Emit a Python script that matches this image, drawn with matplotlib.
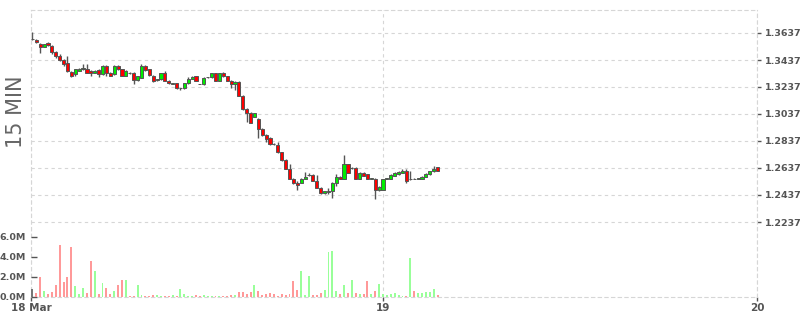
import matplotlib

matplotlib.use("Agg")
import matplotlib.pyplot as plt
import matplotlib.dates as mdates
import numpy as np
import pandas as pd

# 15-minute bars, first bar 18 Mar 01:30
start = "2020-03-18 01:30"

opens = [
    1.3593, 1.3585, 1.3555, 1.3537, 1.3563, 1.3537, 1.3496, 1.3463, 1.3437, 1.3415,
    1.3348, 1.3330, 1.3359, 1.3367, 1.3370, 1.3359, 1.3344, 1.3363, 1.3330, 1.3396,
    1.3344, 1.3330, 1.3396, 1.3367, 1.3322, 1.3341, 1.3341, 1.3289, 1.3307, 1.3396,
    1.3367, 1.3322, 1.3289, 1.3293, 1.3337, 1.3285, 1.3261, 1.3263, 1.3226, 1.3226,
    1.3263, 1.3296, 1.3315, 1.3259, 1.3256, 1.3309, 1.3311, 1.3337, 1.3285, 1.3337,
    1.3315, 1.3285, 1.3259, 1.3274, 1.3174, 1.3074, 1.3048, 1.3018, 1.3003, 1.2929,
    1.2885, 1.2859, 1.2818, 1.2811, 1.2752, 1.2696, 1.2630, 1.2559, 1.2529, 1.2529,
    1.2559, 1.2583, 1.2585, 1.2544, 1.2492, 1.2452, 1.2461, 1.2463, 1.2529, 1.2574,
    1.2559, 1.2663, 1.2635, 1.2637, 1.2555, 1.2603, 1.2589, 1.2559, 1.2559, 1.2477,
    1.2477, 1.2559, 1.2559, 1.2581, 1.2589, 1.2603, 1.2618, 1.2552, 1.2557, 1.2559,
    1.2559, 1.2574, 1.2589, 1.2615, 1.2644,
]
highs = [
    1.3644, 1.3589, 1.3563, 1.3555, 1.3570, 1.3548, 1.3504, 1.3481, 1.3444, 1.3467,
    1.3356, 1.3370, 1.3378, 1.3407, 1.3407, 1.3363, 1.3363, 1.3370, 1.3400, 1.3400,
    1.3348, 1.3400, 1.3400, 1.3370, 1.3363, 1.3348, 1.3348, 1.3319, 1.3407, 1.3400,
    1.3370, 1.3326, 1.3296, 1.3344, 1.3359, 1.3289, 1.3267, 1.3267, 1.3230, 1.3267,
    1.3311, 1.3319, 1.3319, 1.3259, 1.3311, 1.3313, 1.3341, 1.3341, 1.3341, 1.3348,
    1.3319, 1.3289, 1.3281, 1.3278, 1.3178, 1.3081, 1.3052, 1.3044, 1.3007, 1.2933,
    1.2889, 1.2863, 1.2822, 1.2833, 1.2755, 1.2700, 1.2663, 1.2563, 1.2544, 1.2563,
    1.2611, 1.2600, 1.2589, 1.2585, 1.2496, 1.2470, 1.2489, 1.2533, 1.2592, 1.2578,
    1.2733, 1.2666, 1.2644, 1.2641, 1.2607, 1.2607, 1.2592, 1.2563, 1.2563, 1.2500,
    1.2559, 1.2566, 1.2589, 1.2607, 1.2615, 1.2626, 1.2626, 1.2618, 1.2563, 1.2566,
    1.2578, 1.2600, 1.2618, 1.2652, 1.2648,
]
lows = [
    1.3585, 1.3563, 1.3489, 1.3533, 1.3541, 1.3481, 1.3455, 1.3430, 1.3393, 1.3348,
    1.3311, 1.3322, 1.3356, 1.3363, 1.3337, 1.3319, 1.3341, 1.3311, 1.3326, 1.3319,
    1.3319, 1.3326, 1.3363, 1.3319, 1.3319, 1.3333, 1.3259, 1.3285, 1.3304, 1.3356,
    1.3319, 1.3274, 1.3285, 1.3289, 1.3281, 1.3259, 1.3256, 1.3222, 1.3215, 1.3222,
    1.3259, 1.3293, 1.3278, 1.3256, 1.3252, 1.3307, 1.3307, 1.3281, 1.3281, 1.3311,
    1.3281, 1.3226, 1.3218, 1.3170, 1.3066, 1.2981, 1.2970, 1.3015, 1.2859, 1.2874,
    1.2833, 1.2811, 1.2811, 1.2748, 1.2692, 1.2626, 1.2555, 1.2518, 1.2477, 1.2526,
    1.2555, 1.2578, 1.2541, 1.2489, 1.2444, 1.2441, 1.2444, 1.2418, 1.2500, 1.2552,
    1.2555, 1.2600, 1.2630, 1.2552, 1.2552, 1.2578, 1.2555, 1.2555, 1.2407, 1.2470,
    1.2474, 1.2555, 1.2555, 1.2578, 1.2585, 1.2600, 1.2526, 1.2548, 1.2552, 1.2555,
    1.2555, 1.2570, 1.2585, 1.2611, 1.2615,
]
closes = [
    1.3593, 1.3570, 1.3533, 1.3552, 1.3548, 1.3496, 1.3463, 1.3437, 1.3407, 1.3356,
    1.3319, 1.3367, 1.3374, 1.3381, 1.3344, 1.3337, 1.3359, 1.3330, 1.3396, 1.3344,
    1.3322, 1.3396, 1.3367, 1.3322, 1.3359, 1.3337, 1.3289, 1.3315, 1.3396, 1.3363,
    1.3326, 1.3281, 1.3293, 1.3337, 1.3285, 1.3267, 1.3263, 1.3226, 1.3228, 1.3263,
    1.3296, 1.3311, 1.3281, 1.3256, 1.3307, 1.3311, 1.3337, 1.3285, 1.3337, 1.3315,
    1.3285, 1.3256, 1.3274, 1.3174, 1.3074, 1.3048, 1.2974, 1.3041, 1.2929, 1.2881,
    1.2855, 1.2818, 1.2815, 1.2752, 1.2696, 1.2630, 1.2559, 1.2526, 1.2514, 1.2559,
    1.2574, 1.2585, 1.2544, 1.2492, 1.2452, 1.2467, 1.2463, 1.2529, 1.2574, 1.2555,
    1.2663, 1.2603, 1.2637, 1.2555, 1.2603, 1.2581, 1.2559, 1.2561, 1.2477, 1.2496,
    1.2555, 1.2561, 1.2585, 1.2603, 1.2607, 1.2618, 1.2544, 1.2559, 1.2555, 1.2561,
    1.2574, 1.2596, 1.2615, 1.2633, 1.2618,
]
# volume in millions
volumes = [
    0.80, 0.40, 2.00, 0.60, 0.27, 0.47, 1.17, 5.20, 1.50, 2.00,
    5.00, 1.07, 0.27, 0.87, 0.37, 3.57, 2.57, 0.27, 1.37, 0.87,
    0.27, 0.57, 1.17, 1.67, 1.67, 0.07, 0.07, 1.17, 0.17, 0.07,
    0.07, 0.17, 0.17, 0.07, 0.05, 0.05, 0.17, 0.05, 0.77, 0.27,
    0.10, 0.05, 0.17, 0.05, 0.17, 0.05, 0.10, 0.05, 0.08, 0.05,
    0.05, 0.17, 0.17, 0.47, 0.47, 0.27, 0.47, 1.17, 0.57, 0.17,
    0.27, 0.37, 0.27, 0.07, 0.27, 0.17, 0.27, 1.57, 0.67, 2.57,
    0.17, 2.07, 0.17, 0.17, 0.37, 0.67, 4.47, 4.57, 0.57, 0.27,
    1.17, 0.37, 1.67, 0.37, 0.27, 0.27, 1.57, 0.27, 0.57, 1.27,
    0.27, 0.17, 0.27, 0.37, 0.17, 0.07, 0.07, 3.87, 0.57, 0.37,
    0.37, 0.47, 0.47, 0.77, 0.17,
]
price_ticks = [1.2237, 1.2437, 1.2637, 1.2837, 1.3037, 1.3237, 1.3437, 1.3637]
volume_ticks = [0, 2, 4, 6]
day_labels = ["18 Mar", "19", "20"]
day_dates = ["2020-03-19", "2020-03-20"]

GRID = "#d6d6d6"
TEXT = "#555555"
EDGE = "#555555"
DASH = (0, (3, 3))

o = np.array(opens)
c = np.array(closes)
times = pd.date_range(start, periods=len(opens), freq="15min")
x = mdates.date2num(times.to_pydatetime())
step = 1 / 96

body_col = np.where(c > o, "#00ee00", np.where(c < o, "#ff0000", EDGE))
vol_col = np.where(c > o, "#99ff99", np.where(c < o, "#ff9999", "#777777"))

W, H = 800, 315
left, right, top, bottom = 31, 757, 10, 296.5
rect = [left / W, (H - bottom) / H, (right - left) / W, (bottom - top) / H]

fig = plt.figure(figsize=(W / 100, H / 100), dpi=100)
ax = fig.add_axes(rect)
ax_vol = fig.add_axes(rect, sharex=ax)
ax_vol.patch.set_visible(False)

# price scale: 27 px per 0.02
px = 0.02 / 27
ax.set_ylim(1.3637 - (bottom - 33) * px, 1.3637 + (33 - top) * px)

x_end = mdates.date2num(pd.Timestamp(day_dates[-1]))
x_start = x[0] - 0.36 * step
ax.set_xlim(x_start, x_end)

ax.vlines(x, lows, highs, color=EDGE, linewidth=1, zorder=2)
ax.bar(x, np.abs(c - o), bottom=np.minimum(o, c), width=0.8 * step,
       color=body_col, edgecolor=EDGE, linewidth=0.7, zorder=3)

ax.yaxis.tick_right()
ax.set_yticks(price_ticks)
ax.set_yticklabels([f"{v:.4f}" for v in price_ticks])
ax.tick_params(axis="y", direction="out", length=3, width=1, color=EDGE,
               labelsize=6.8, labelcolor=TEXT, pad=2.5)

xt = [x_start] + [mdates.date2num(pd.Timestamp(d)) for d in day_dates]
ax.set_xticks(xt)
ax.set_xticklabels(day_labels)
ax.tick_params(axis="x", direction="out", length=3, width=1, color=EDGE,
               labelsize=7.5, labelcolor=TEXT, pad=1.5)
for lbl in ax.get_xticklabels() + ax.get_yticklabels():
    lbl.set_fontweight("bold")

ax.grid(True, color=GRID, linestyle=DASH, linewidth=0.8)
ax.set_axisbelow(True)
for sp in ax.spines.values():
    sp.set_linestyle(DASH)
    sp.set_color(GRID)
    sp.set_linewidth(0.8)

# volume pane on the same frame, 10 px per million
ax_vol.bar(x, volumes, width=0.5 * step, color=vol_col, linewidth=0, zorder=2)
ax_vol.set_ylim(0, (bottom - top) / 10)
ax_vol.set_yticks(volume_ticks)
ax_vol.set_yticklabels([f"{v:.1f}M" for v in volume_ticks])
ax_vol.tick_params(axis="y", direction="in", length=4, width=1, color=EDGE,
                   labelsize=6.8, labelcolor=TEXT, pad=4)
ax_vol.tick_params(axis="x", bottom=False, labelbottom=False)
for lbl in ax_vol.get_yticklabels():
    lbl.set_fontweight("bold")
for sp in ax_vol.spines.values():
    sp.set_visible(False)

fig.text(15.5 / W, 1 - 112 / H, "15 MIN", rotation=90, ha="center", va="center",
         fontsize=15, color="#666666")

fig.savefig("out.png", dpi=100)
